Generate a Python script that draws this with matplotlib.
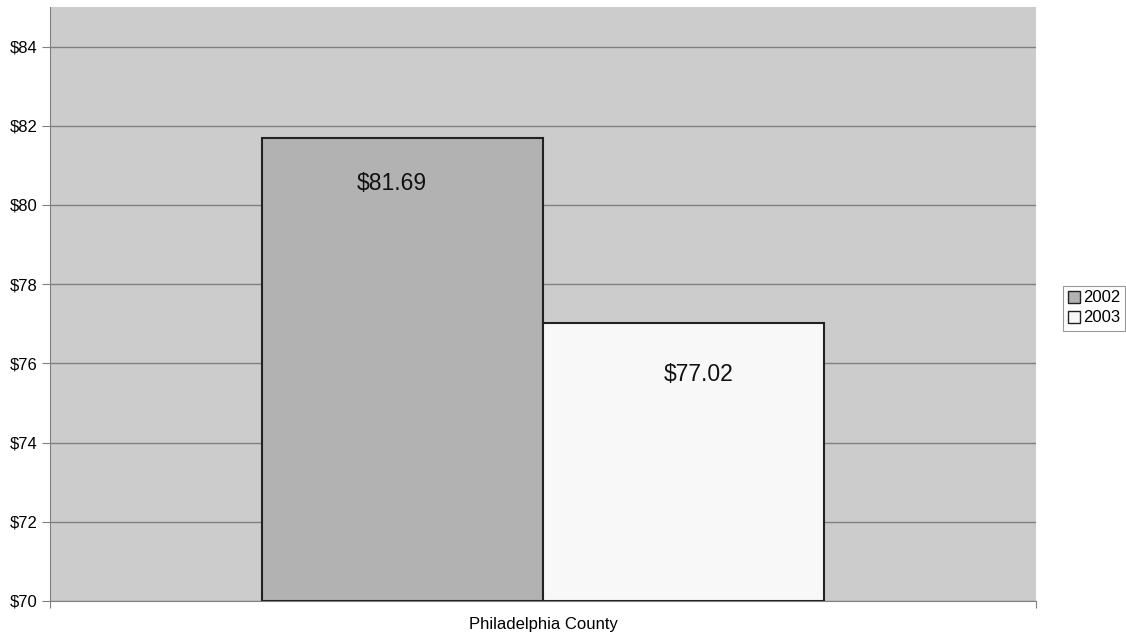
import matplotlib.pyplot as plt
import numpy as np

plt.rcParams["font.family"] = ["Liberation Sans", "DejaVu Sans"]

# Data
category = ["Philadelphia County"]
years = ["2002", "2003"]
values = [81.69, 77.02]
value_labels = ["$81.69", "$77.02"]
yticks = [70, 72, 74, 76, 78, 80, 82, 84]
ytick_labels = ["$70", "$72", "$74", "$76", "$78", "$80", "$82", "$84"]

colors = ["#b2b2b2", "#f8f8f8"]
# label offsets (points) relative to the bar top
label_shift = [(-8, -33), (11, -37)]

fig = plt.figure(figsize=(11.26, 6.34), dpi=100)
ax = fig.add_axes([50 / 1126, 33 / 634, 986 / 1126, 594 / 634])
ax.set_facecolor("#cccccc")

width = 0.285
offsets = [-width / 2, width / 2]
for i, (yr, v) in enumerate(zip(years, values)):
    ax.bar(offsets[i], v - 70, bottom=70, width=width, color=colors[i],
           edgecolor="#222222", linewidth=1.5, label=yr, zorder=3)
    ax.annotate(value_labels[i], xy=(offsets[i], v), xytext=label_shift[i],
                textcoords="offset points", ha="center", va="center",
                fontsize=16.5, color="#111111", zorder=4)

ax.set_xlim(-0.5, 0.5)
ax.set_ylim(70, 85)
ax.set_yticks(yticks)
ax.set_yticklabels(ytick_labels, fontsize=12)
ax.yaxis.grid(True, color="#808080", linewidth=1, zorder=1)
ax.set_axisbelow(True)

ax.set_xticks([-0.5, 0.5])
ax.set_xticklabels(["", ""])
ax.tick_params(axis="x", length=5, color="#808080")
ax.tick_params(axis="y", length=6, color="#808080", pad=3)
ax.text(0.5, -0.04, category[0], transform=ax.transAxes, ha="center",
        va="center", fontsize=12)

for side in ["top", "right"]:
    ax.spines[side].set_visible(False)
for side in ["left", "bottom"]:
    ax.spines[side].set_color("#808080")

leg = fig.legend(loc="center left", bbox_to_anchor=(1063 / 1126, 1 - 308 / 634),
                 fontsize=12, frameon=True, fancybox=False, handlelength=0.7,
                 handleheight=0.7, handletextpad=0.2, borderpad=0.3,
                 labelspacing=0.3, borderaxespad=0)
leg.get_frame().set_edgecolor("#808080")
leg.get_frame().set_linewidth(0.8)
for h in leg.legend_handles:
    h.set_linewidth(1)

fig.savefig("out.png", dpi=100)
